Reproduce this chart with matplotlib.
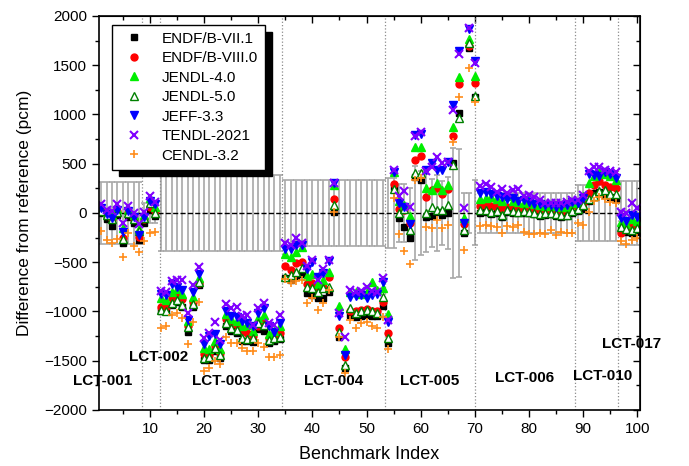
import numpy as np
import matplotlib.pyplot as plt
from matplotlib.ticker import MultipleLocator

plt.rcParams['font.family'] = ['Liberation Sans', 'DejaVu Sans']

bench = np.arange(1, 101)

endf71 = [0, -60, -130, -20, -300, -40, -100, -274, -100, 30, -30,
          -1000, -1000, -930, -900, -950, -1205, -950, -730,
          -1490, -1490, -1400, -1470, -1150, -1200, -1220, -1300, -1300, -1306, -1181, -1200, -1320, -1300, -1280,
          -660, -680, -640, -620, -809, -830, -866, -866, -800, 14, -1262, -1577, -1036, -1060, -1050, -1040, -1050, -1050, -944,
          -1323, 260, -54, -139, -257, 369, 335, -37, -30, 15, -20, 0, 504, 1012, -200, 1679, 1181,
          0, 10, -10, 0, -40, 10, 0, 0, 0, 0, -10, -30, -20, -10, -30, -40, -30, 0,
          20, 40, 120, 200, 210, 180, 160, 140,
          -170, -190, -200, -190]
endf80 = [20, -20, -60, 20, -250, 10, -60, -240, -60, 60, 20,
          -950, -950, -860, -840, -870, -1150, -900, -715,
          -1430, -1440, -1350, -1420, -1080, -1130, -1137, -1200, -1220, -1250, -1150, -1120, -1270, -1240, -1222,
          -538, -579, -511, -500, -720, -714, -780, -750, -646, 139, -1171, -1460, -990, -1000, -980, -970, -990, -990, -900,
          -1222, 291, 40, 30, -105, 538, 579, 166, 233, 250, 190, 240, 782, 1310, -110, 1700, 1316,
          70, 80, 70, 60, 50, 60, 70, 40, 60, 50, 40, 30, 30, 30, 20, 10, 40, 80,
          60, 100, 200, 280, 320, 280, 260, 250,
          -200, -150, -120, -150]
jendl40 = [40, 10, -20, 40, -150, 30, -20, -160, -20, 150, 60,
           -866, -880, -800, -770, -820, -1100, -850, -660,
           -1374, -1380, -1300, -1380, -1030, -1080, -1100, -1150, -1140, -1200, -1070, -1040, -1230, -1200, -1150,
           -420, -443, -400, -350, -640, -620, -720, -680, -600, 280, -944, -1380, -800, -800, -820, -800, -697, -780, -760,
           -1030, 420, 120, 80, -30, 673, 673, 250, 233, 308, 230, 284, 870, 1384, -50, 1763, 1391,
           140, 150, 160, 140, 120, 170, 120, 110, 100, 120, 90, 80, 70, 70, 70, 60, 60, 100,
           100, 170, 300, 380, 420, 400, 380, 330,
           -88, -110, -60, -80]
jendl50 = [20, -20, -60, 10, -267, 0, -60, -180, -50, 100, 0,
           -985, -990, -910, -885, -930, -1154, -925, -700,
           -1476, -1465, -1374, -1442, -1120, -1171, -1188, -1272, -1282, -1270, -1120, -1140, -1289, -1272, -1255,
           -646, -629, -596, -562, -755, -765, -800, -760, -755, 81, -1210, -1543, -968, -1019, -990, -980, -1000, -1020, -849,
           -1272, 240, 0, 37, -173, 403, 403, 0, 64, 30, 30, 81, 487, 961, -173, 1729, 1188,
           30, 30, 10, 20, -20, 30, 20, 10, 20, 10, 0, -10, 0, 0, -10, -20, -20, 20,
           40, 80, 140, 170, 220, 230, 190, 190,
           -139, -160, -173, -150]
jeff33 = [50, -10, -50, 30, -190, 20, -40, -220, -40, 120, 90,
          -820, -830, -720, -750, -785, -1086, -800, -615,
          -1330, -1250, -1232, -1330, -995, -1046, -1060, -1100, -1120, -1150, -1020, -968, -1150, -1205, -1113,
          -369, -369, -320, -330, -570, -494, -650, -610, -483, 300, -1050, -1442, -849, -840, -830, -860, -830, -820, -700,
          -1110, 420, 98, 60, -110, 790, 800, 440, 504, 440, 437, 520, 1096, 1640, -105, 1865, 1540,
          200, 210, 190, 170, 160, 140, 150, 120, 130, 110, 90, 90, 80, 80, 60, 70, 80, 110,
          100, 150, 400, 390, 380, 420, 400, 360,
          -54, -80, -20, -40]
tendl21 = [90, 30, 20, 90, -105, 70, 0, -110, 10, 170, 110,
           -790, -800, -690, -680, -680, -1015, -730, -550,
           -1272, -1215, -1103, -1289, -924, -968, -958, -1046, -1036, -1137, -968, -910, -1120, -1140, -1036,
           -301, -330, -257, -300, -540, -480, -680, -572, -477, 308, -1019, -1262, -782, -800, -790, -748, -790, -800, -663,
           -1086, 437, 173, 227, 58, 782, 826, 430, 470, 572, 504, 521, 1046, 1614, 47, 1875, 1519,
           270, 290, 265, 215, 240, 200, 235, 240, 170, 180, 165, 130, 100, 100, 100, 100, 115, 130,
           130, 180, 430, 470, 470, 440, 430, 420,
           14, 0, 98, 50]
cendl32 = [-180, -270, -300, -260, -450, -200, -340, -400, -280, -200, -190,
           -1170, -1145, -1035, -1015, -1070, -1330, -1105, -900,
           -1600, -1577, -1500, -1533, -1262, -1316, -1323, -1374, -1398, -1400, -1323, -1357, -1459, -1459, -1442,
           -673, -714, -690, -680, -917, -866, -985, -917, -780, 14, -1262, -1628, -1086, -1171, -1120, -1110, -1147, -1170, -1059,
           -1384, 149, -210, -390, -518, 330, 352, -139, -149, -71, -156, -122, 724, 1181, -376, 1469, 1130,
           -132, -122, -132, -145, -200, -132, -139, -122, -190, -213, -213, -206, -213, -173, -227, -190, -200, -206,
           -100, -120, 10, 120, 160, 140, 110, 100,
           -280, -315, -274, -250]

# benchmark uncertainty (pcm)
unc = [310] * 8 + [100] * 3 + [390] * 23 + [335] * 19 + \
      [355, 355, 290, 290, 250, 475, 425, 400, 350, 390, 320, 370, 660, 645, 200, 200, 330] + \
      [200] * 18 + [280] * 8 + [320] * 4

boundaries = [8.5, 11.9, 34.4, 53.5, 70, 88.5, 96.5]
group_names = ['LCT-001', 'LCT-002', 'LCT-003', 'LCT-004', 'LCT-005', 'LCT-006', 'LCT-010', 'LCT-017']
group_x = [1.2, 11.7, 23.2, 44.0, 61.7, 79.2, 93.6, 99.0]
group_y = [-1706, -1462, -1706, -1706, -1706, -1675, -1655, -1330]

fig = plt.figure(figsize=(6.89, 4.66), dpi=100)
ax = fig.add_axes([0.1437, 0.1202, 0.7852, 0.8455])

ax.errorbar(bench, np.zeros(len(bench)), yerr=unc, fmt='none', ecolor='#a8a8a8',
            elinewidth=1.2, capsize=2.5, capthick=1.2, zorder=1)
ax.axhline(0, color='k', ls='--', lw=1, zorder=1.5)
for b in boundaries:
    ax.axvline(b, color='#8c8c8c', ls=':', lw=0.9, zorder=1)

ax.plot(bench, endf71, 's', color='k', ms=4.5, label='ENDF/B-VII.1')
ax.plot(bench, endf80, 'o', color='red', ms=5, label='ENDF/B-VIII.0')
ax.plot(bench, jendl40, '^', color='#00ee00', ms=5.5, label='JENDL-4.0')
ax.plot(bench, jendl50, '^', mfc='white', mec='#008000', mew=1, ms=5.5, label='JENDL-5.0')
ax.plot(bench, jeff33, 'v', color='blue', ms=5.5, label='JEFF-3.3')
ax.plot(bench, tendl21, 'x', color='#8000ff', ms=6, mew=1.5, label='TENDL-2021')
ax.plot(bench, cendl32, '+', color='#ff8c1a', ms=6, mew=1.2, label='CENDL-3.2')

for name, gx, gy in zip(group_names, group_x, group_y):
    ax.text(gx, gy, name, ha='center', va='center', fontsize=11, fontweight='bold')

ax.set_xlim(0.6, 100.5)
ax.set_ylim(-2000, 2000)
ax.xaxis.set_major_locator(MultipleLocator(10))
ax.xaxis.set_minor_locator(MultipleLocator(5))
ax.yaxis.set_major_locator(MultipleLocator(500))
ax.yaxis.set_minor_locator(MultipleLocator(250))
ax.tick_params(which='both', direction='out', labelsize=11, width=1)
ax.tick_params(which='major', length=5)
ax.tick_params(which='minor', length=3)
for s in ax.spines.values():
    s.set_linewidth(1.2)

top = ax.secondary_xaxis('top')
top.xaxis.set_major_locator(MultipleLocator(10))
top.xaxis.set_minor_locator(MultipleLocator(5))
top.tick_params(which='both', direction='in', labeltop=False, width=1)
top.tick_params(which='major', length=5)
top.tick_params(which='minor', length=3)
right = ax.secondary_yaxis('right')
right.yaxis.set_major_locator(MultipleLocator(500))
right.yaxis.set_minor_locator(MultipleLocator(250))
right.tick_params(which='both', direction='in', labelright=False, width=1)
right.tick_params(which='major', length=5)
right.tick_params(which='minor', length=3)

ax.set_xlabel('Benchmark Index', fontsize=13, labelpad=7)
ax.set_ylabel('Difference from reference (pcm)', fontsize=12.5, labelpad=9)

leg = ax.legend(loc='upper left', bbox_to_anchor=(0.01, 0.997), fontsize=11, frameon=True,
                fancybox=False, edgecolor='k', framealpha=1, labelspacing=0.36,
                handletextpad=0.8, borderpad=0.45, handlelength=2.0,
                shadow={'color': 'k', 'alpha': 1, 'ox': 5, 'oy': -5})
leg.get_frame().set_linewidth(1)

fig.savefig('out.png', dpi=100)
